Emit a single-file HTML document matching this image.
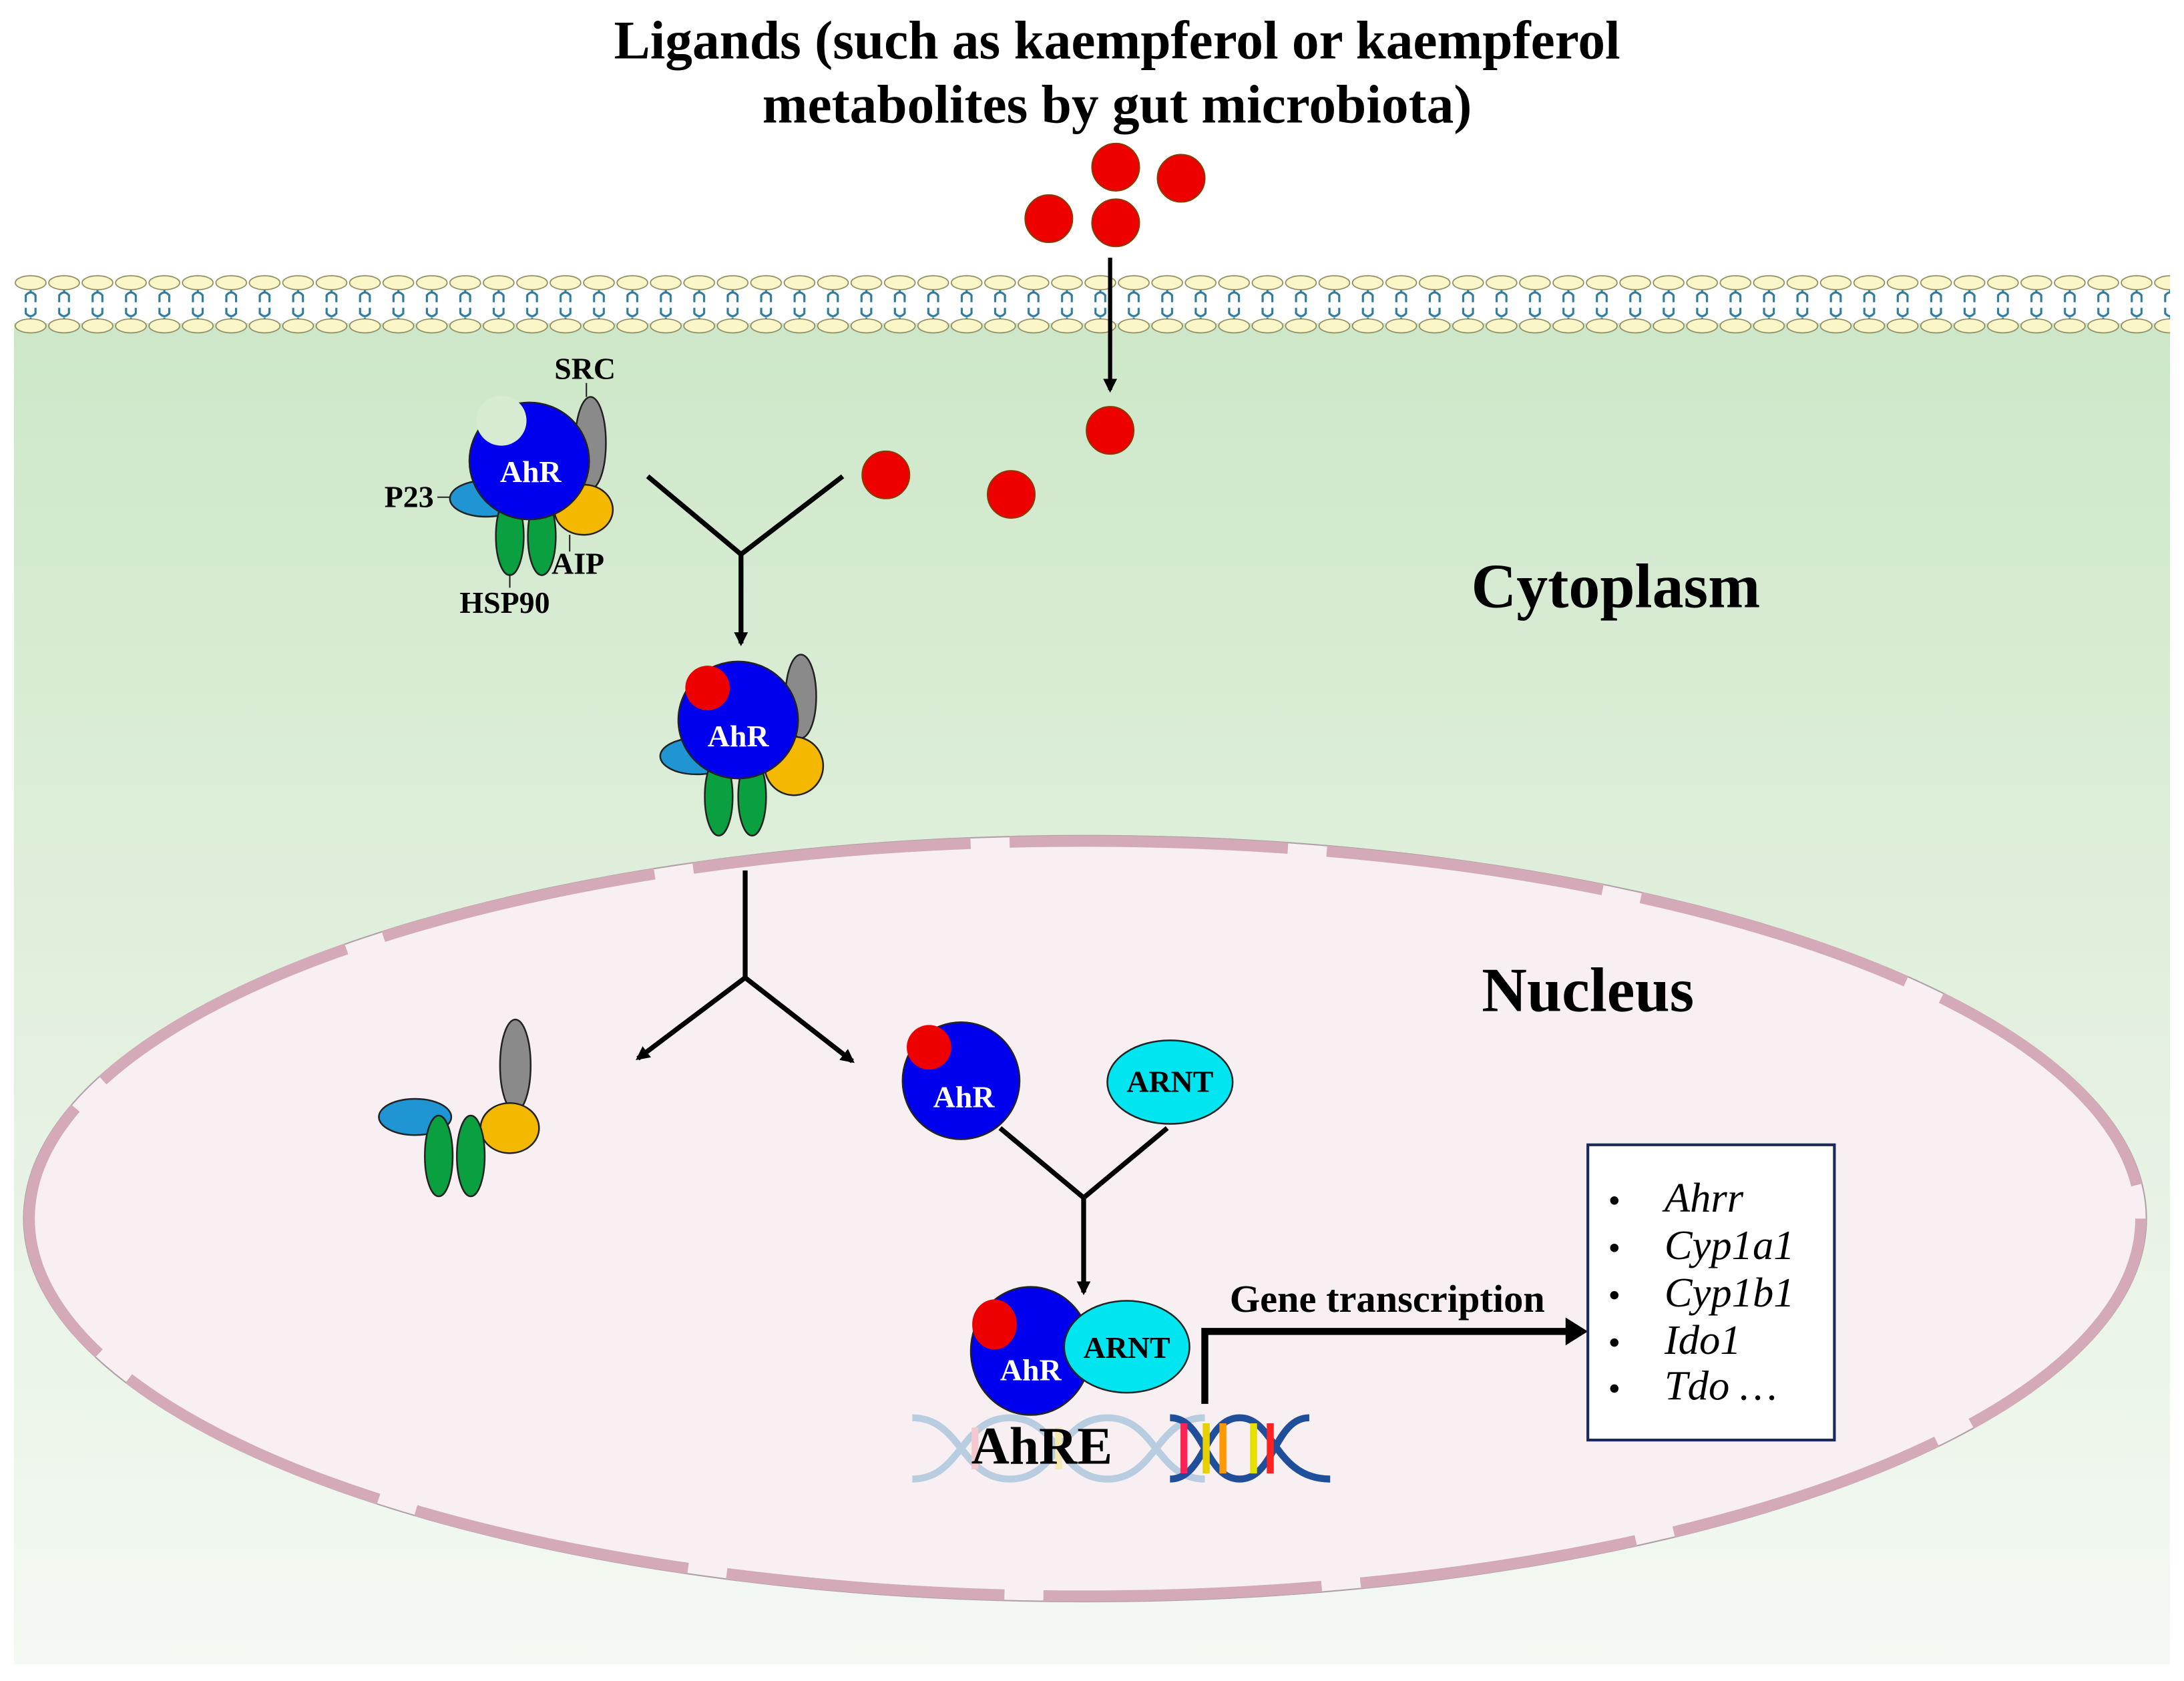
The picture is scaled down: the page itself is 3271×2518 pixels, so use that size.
<!DOCTYPE html>
<html><head><meta charset="utf-8"><style>html,body{margin:0;padding:0;background:#fff}svg{display:block}</style></head>
<body>
<svg width="3271" height="2518" viewBox="0 0 1568 1207" preserveAspectRatio="none" xmlns="http://www.w3.org/2000/svg" font-family="Liberation Serif, serif">
<defs>
<linearGradient id="cy" x1="0" y1="0" x2="0" y2="1"><stop offset="0" stop-color="#cde7c8"/><stop offset="0.5" stop-color="#e2f0de"/><stop offset="1" stop-color="#f4f9f3"/></linearGradient>
<pattern id="lip" x="10" y="195" width="24" height="50" patternUnits="userSpaceOnUse">
<path d="M12 12 v3 M8.5 22 v-5 q3.5-4 7 0 v5 M8.5 26 v4 q3.5 4 7 0 v-4 M12 33 v3" stroke="#2e7a9a" stroke-width="1.5" fill="none"/>
<ellipse cx="12" cy="8" rx="11" ry="5" fill="#fbf6c8" stroke="#8a8a60" stroke-width="0.8"/>
<ellipse cx="12" cy="39" rx="11" ry="5" fill="#fbf6c8" stroke="#8a8a60" stroke-width="0.8"/>
</pattern>
<marker id="ah" markerWidth="10" markerHeight="10" refX="8" refY="5" orient="auto" markerUnits="userSpaceOnUse"><path d="M0 0 L10 5 L0 10 z" fill="#000"/></marker>
</defs>
<rect x="10" y="232" width="1548" height="963" fill="url(#cy)"/>
<rect x="10" y="195" width="1548" height="50" fill="url(#lip)"/>
<!-- nucleus -->
<ellipse cx="779" cy="875" rx="762" ry="275" fill="#f7eff1" stroke="#b0a0a8" stroke-width="1"/>
<ellipse cx="779" cy="875" rx="758" ry="271" fill="none" stroke="#d4a9b8" stroke-width="8" stroke-dasharray="200 28"/>
<!-- title -->
<text x="802" y="42" font-size="39" font-weight="bold" text-anchor="middle">Ligands (such as kaempferol or kaempferol</text>
<text x="802" y="88" font-size="39" font-weight="bold" text-anchor="middle">metabolites by gut microbiota)</text>
<g fill="#ee0000" stroke="#8a3a00" stroke-width="1">
<circle cx="801" cy="120" r="17"/><circle cx="848" cy="128" r="17"/><circle cx="753" cy="157" r="17"/><circle cx="801" cy="160" r="17"/>
<circle cx="797" cy="309" r="17"/><circle cx="636" cy="341" r="17"/><circle cx="726" cy="355" r="17"/>
</g>
<line x1="797" y1="185" x2="797" y2="280" stroke="#000" stroke-width="3" marker-end="url(#ah)"/>
<text x="1160" y="436" font-size="45" font-weight="bold" text-anchor="middle">Cytoplasm</text>
<text x="1140" y="726" font-size="45" font-weight="bold" text-anchor="middle">Nucleus</text>
<!-- complex 1 -->
<g stroke="#222" stroke-width="1.2">
<ellipse cx="424" cy="318" rx="11" ry="33" fill="#8a8a8a"/>
<ellipse cx="419" cy="366" rx="21" ry="18" fill="#f5b800"/>
<ellipse cx="349" cy="358" rx="26" ry="13" fill="#1f95d4"/>
<ellipse cx="366" cy="385" rx="10" ry="28" fill="#0aa040"/>
<ellipse cx="389" cy="385" rx="10" ry="28" fill="#0aa040"/>
<ellipse cx="380" cy="331" rx="43" ry="42" fill="#0000ee"/>
</g>
<circle cx="360" cy="302" r="18" fill="#d6ebd1"/>
<text x="381" y="346" font-size="22" font-weight="bold" fill="#fff" text-anchor="middle">AhR</text>
<g font-size="22" font-weight="bold"><text x="398" y="272">SRC</text><text x="276" y="364">P23</text><text x="396" y="412">AIP</text><text x="330" y="440">HSP90</text></g>
<g stroke="#222" stroke-width="1"><line x1="421" y1="275" x2="421" y2="285"/><line x1="314" y1="357" x2="323" y2="357"/><line x1="409" y1="384" x2="409" y2="396"/><line x1="366" y1="412" x2="366" y2="422"/></g>
<!-- Y arrow 1 -->
<path d="M465 342 L532 398 L605 342 M532 398 L532 462" stroke="#000" stroke-width="3.5" fill="none" marker-end="url(#ah)"/>
<!-- complex 2 -->
<g stroke="#222" stroke-width="1.2">
<ellipse cx="575" cy="500" rx="11" ry="30" fill="#8a8a8a"/>
<ellipse cx="570" cy="550" rx="21" ry="21" fill="#f5b800"/>
<ellipse cx="500" cy="543" rx="26" ry="13" fill="#1f95d4"/>
<ellipse cx="516" cy="572" rx="10" ry="28" fill="#0aa040"/>
<ellipse cx="540" cy="572" rx="10" ry="28" fill="#0aa040"/>
<ellipse cx="530" cy="517" rx="43" ry="42" fill="#0000ee"/>
<circle cx="508" cy="494" r="16" fill="#ee0000" stroke="none"/>
</g>
<text x="530" y="536" font-size="22" font-weight="bold" fill="#fff" text-anchor="middle">AhR</text>
<!-- split arrow -->
<path d="M535 625 L535 702" stroke="#000" stroke-width="3.5" fill="none"/>
<path d="M535 702 L458 760" stroke="#000" stroke-width="3.5" fill="none" marker-end="url(#ah)"/>
<path d="M535 702 L612 762" stroke="#000" stroke-width="3.5" fill="none" marker-end="url(#ah)"/>
<!-- chaperones -->
<g stroke="#222" stroke-width="1.2">
<ellipse cx="370" cy="765" rx="11" ry="33" fill="#8a8a8a"/>
<ellipse cx="366" cy="810" rx="21" ry="18" fill="#f5b800"/>
<ellipse cx="298" cy="802" rx="26" ry="13" fill="#1f95d4"/>
<ellipse cx="315" cy="830" rx="10" ry="29" fill="#0aa040"/>
<ellipse cx="338" cy="830" rx="10" ry="29" fill="#0aa040"/>
</g>
<!-- AhR + ARNT -->
<ellipse cx="690" cy="776" rx="42" ry="42" fill="#0000ee" stroke="#222" stroke-width="1.2"/>
<circle cx="667" cy="752" r="16" fill="#ee0000"/>
<text x="692" y="795" font-size="22" font-weight="bold" fill="#fff" text-anchor="middle">AhR</text>
<ellipse cx="840" cy="777" rx="45" ry="30" fill="#00e5f0" stroke="#222" stroke-width="1.2"/>
<text x="840" y="784" font-size="22" font-weight="bold" text-anchor="middle">ARNT</text>
<path d="M718 810 L778 860 L838 810 M778 860 L778 928" stroke="#000" stroke-width="3.5" fill="none" marker-end="url(#ah)"/>
<!-- DNA -->
<g stroke-width="5" fill="none">
<path d="M655 1018 C690 1018 690 1062 725 1062 C760 1062 760 1018 795 1018 C830 1018 830 1062 865 1062" stroke="#b9cde0"/>
<path d="M655 1062 C690 1062 690 1018 725 1018 C760 1018 760 1062 795 1062 C830 1062 830 1018 865 1018" stroke="#b9cde0"/>
<path d="M840 1018 C865 1018 865 1062 890 1062 C915 1062 915 1018 940 1018 M840 1062 C865 1062 865 1018 890 1018 C915 1018 915 1062 955 1062" stroke="#1f4e9a"/>
</g>
<g stroke-width="5"><line x1="850" y1="1022" x2="850" y2="1058" stroke="#ff2255"/><line x1="866" y1="1022" x2="866" y2="1058" stroke="#e6d000"/><line x1="878" y1="1022" x2="878" y2="1058" stroke="#ff9900"/><line x1="900" y1="1022" x2="900" y2="1058" stroke="#e6e000"/><line x1="912" y1="1022" x2="912" y2="1058" stroke="#ff2222"/><line x1="700" y1="1025" x2="700" y2="1055" stroke="#f5c8d0"/><line x1="760" y1="1025" x2="760" y2="1055" stroke="#f5e8b0"/></g>
<text x="748" y="1051" font-size="38" font-weight="bold" text-anchor="middle">AhRE</text>
<ellipse cx="740" cy="970" rx="43" ry="46" fill="#0000ee" stroke="#222" stroke-width="1.2"/>
<ellipse cx="714" cy="951" rx="16" ry="18" fill="#ee0000"/>
<ellipse cx="809" cy="967" rx="45" ry="33" fill="#00e5f0" stroke="#222" stroke-width="1.2"/>
<text x="740" y="991" font-size="22" font-weight="bold" fill="#fff" text-anchor="middle">AhR</text>
<text x="809" y="975" font-size="22" font-weight="bold" text-anchor="middle">ARNT</text>
<!-- transcription arrow -->
<path d="M865 1008 L865 956 L1128 956" stroke="#000" stroke-width="5" fill="none"/>
<path d="M1124 946 L1140 956 L1124 966 z" fill="#000"/>
<text x="996" y="942" font-size="28" font-weight="bold" text-anchor="middle">Gene transcription</text>
<!-- gene box -->
<rect x="1140" y="822" width="177" height="212" fill="#fff" stroke="#1a2a5a" stroke-width="2"/>
<g font-size="30" font-style="italic"><text x="1195" y="870">Ahrr</text><text x="1195" y="904">Cyp1a1</text><text x="1195" y="938">Cyp1b1</text><text x="1195" y="972">Ido1</text><text x="1195" y="1005">Tdo …</text></g>
<g fill="#000"><circle cx="1159" cy="862" r="3"/><circle cx="1159" cy="896" r="3"/><circle cx="1159" cy="930" r="3"/><circle cx="1159" cy="964" r="3"/><circle cx="1159" cy="997" r="3"/></g>
</svg>
</body></html>
